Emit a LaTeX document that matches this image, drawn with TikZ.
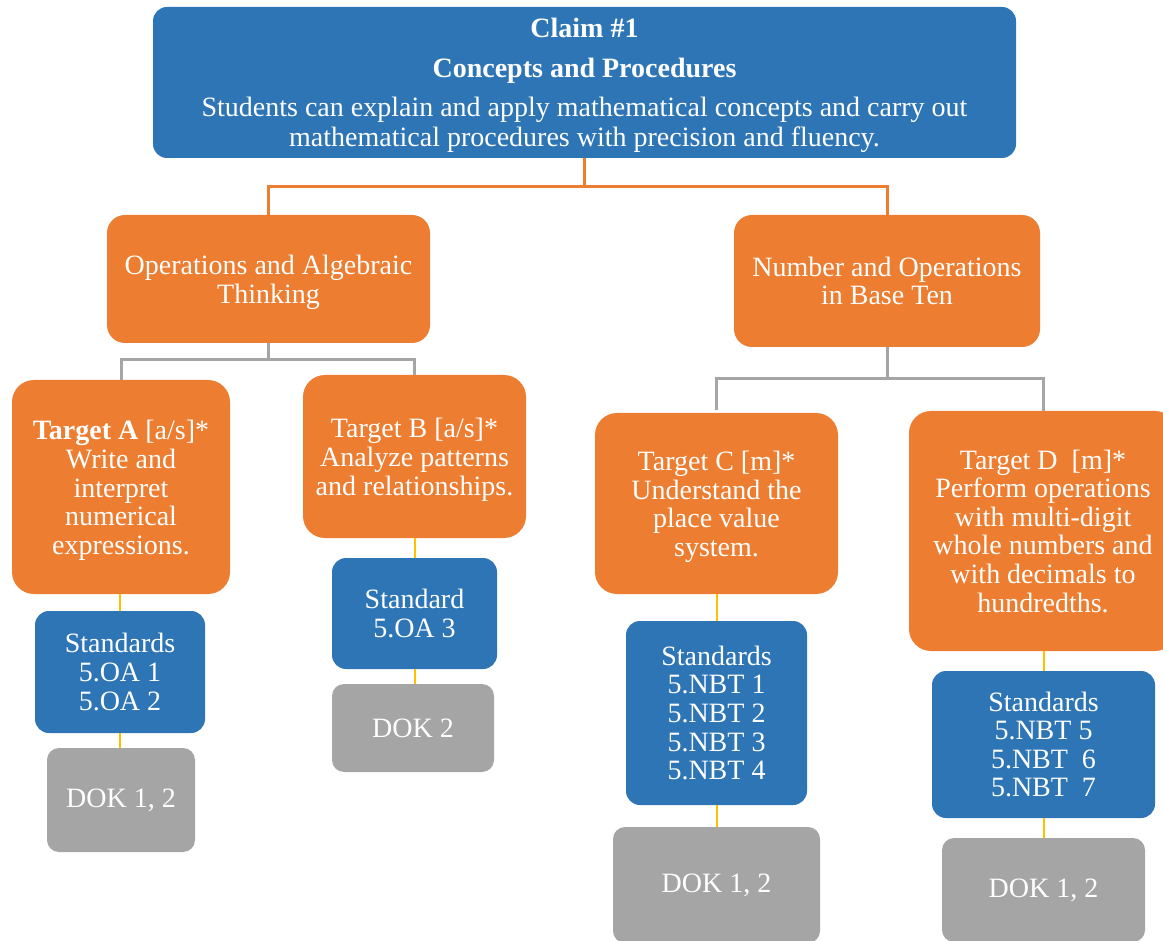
\documentclass[tikz,border=0pt]{standalone}
\usepackage{fontspec}
\setmainfont{Liberation Serif}
\usepackage{xcolor}
\usepackage{tikz}
\usetikzlibrary{positioning}
\definecolor{claimblue}{HTML}{2E75B6}
\definecolor{areaorange}{HTML}{ED7D31}
\definecolor{dokgray}{HTML}{A5A5A5}
\definecolor{linkyellow}{HTML}{FFC000}
\newcommand{\topgap}{\rule{0pt}{13pt}}
\tikzstyle{claimbox} = [rectangle, rounded corners=7pt, fill=claimblue, text=white, align=center, inner sep=0pt, font=\fontsize{14}{15}\selectfont]
\tikzstyle{areabox} = [rectangle, rounded corners=9pt, fill=areaorange, text=white, align=center, inner sep=0pt, font=\fontsize{14}{14.3}\selectfont]
\tikzstyle{targetbox} = [areabox, rounded corners=11pt]
\tikzstyle{stdbox} = [rectangle, rounded corners=7pt, fill=claimblue, text=white, align=center, inner sep=0pt, font=\fontsize{14}{14.3}\selectfont]
\tikzstyle{dokbox} = [stdbox, fill=dokgray, rounded corners=6pt]
\tikzstyle{orangeline} = [draw=areaorange, line width=1.5pt]
\tikzstyle{grayline} = [draw=dokgray, line width=1.5pt]
\tikzstyle{yellowline} = [draw=linkyellow, line width=1pt]

\begin{document}
\begin{tikzpicture}[x=0.5pt, y=-0.5pt]
    \useasboundingbox (0,0) rectangle (1163,941);
    \clip (0,0) rectangle (1163,941);
    % claim
    \node(claim)[claimbox, minimum width=431.5pt, minimum height=75.5pt] at (584.5,82.5)
        {\topgap\textbf{Claim \#1}\\[5pt]\textbf{Concepts and Procedures}\\[4.5pt]Students can explain and apply mathematical concepts and carry out\\mathematical procedures with precision and fluency.};
    % domains
    \node(oat)[areabox, minimum width=161.5pt, minimum height=64pt] at (268.5,279) {\topgap Operations and Algebraic\\Thinking};
    \node(nbt)[areabox, minimum width=153pt, minimum height=66pt] at (887,281) {Number and Operations\\in Base Ten};
    % targets
    \node(tA)[targetbox, minimum width=109pt, minimum height=107pt] at (121,487)
        {\topgap\textbf{Target A} [a/s]*\\Write and\\interpret\\numerical\\expressions.};
    \node(tB)[targetbox, minimum width=111.5pt, minimum height=81.5pt] at (414.5,456.5)
        {\topgap Target B [a/s]*\\Analyze patterns\\and relationships.};
    \node(tC)[targetbox, minimum width=121.5pt, minimum height=90.5pt] at (716.5,503.5)
        {\topgap Target C [m]*\\Understand the\\place value\\system.};
    \node(tD)[targetbox, minimum width=134pt, minimum height=120pt] at (1043,531)
        {Target D~~[m]*\\Perform operations\\with multi-digit\\whole numbers and\\with decimals to\\hundredths.};
    % standards
    \node(sA)[stdbox, minimum width=85pt, minimum height=61pt] at (120,672) {Standards\\5.OA 1\\5.OA 2};
    \node(sB)[stdbox, minimum width=82.5pt, minimum height=55.5pt] at (414.5,613.5) {Standard\\5.OA 3};
    \node(sC)[stdbox, minimum width=90.5pt, minimum height=92pt] at (716.5,713) {Standards\\5.NBT 1\\5.NBT 2\\5.NBT 3\\5.NBT 4};
    \node(sD)[stdbox, minimum width=111.5pt, minimum height=73.5pt] at (1043.5,744.5) {Standards\\5.NBT 5\\5.NBT~~6\\5.NBT~~7};
    % dok
    \node(dA)[dokbox, minimum width=74pt, minimum height=52pt] at (121,800) {DOK 1, 2};
    \node(dB)[dokbox, minimum width=81pt, minimum height=44pt] at (413,728) {DOK 2};
    \node(dC)[dokbox, minimum width=103.5pt, minimum height=58pt] at (716.5,885) {DOK 1, 2};
    \node(dD)[dokbox, minimum width=101.5pt, minimum height=52pt] at (1043.5,890) {DOK 1, 2};
    % connectors
    \draw[orangeline](claim.south)-- ++(0,28) -| (oat.north);
    \draw[orangeline](claim.south)-- ++(0,28) -| (nbt.north);
    \draw[grayline](oat.south)-- ++(0,16) -| (tA.north);
    \draw[grayline](oat.south)-- ++(0,16) -| (tB.north);
    \draw[grayline](nbt.south)-- ++(0,31) -| ([yshift=1.5pt]tC.north);
    \draw[grayline](nbt.south)-- ++(0,31) -| (tD.north);
    \draw[yellowline](sA.north)--(sA.north |- tA.south);
    \draw[yellowline](sA.south)--(sA.south |- dA.north);
    \draw[yellowline](sB.north)--(sB.north |- tB.south);
    \draw[yellowline](sB.south)--(sB.south |- dB.north);
    \draw[yellowline](sC.north)--(sC.north |- tC.south);
    \draw[yellowline](sC.south)--(sC.south |- dC.north);
    \draw[yellowline](sD.north)--(sD.north |- tD.south);
    \draw[yellowline](sD.south)--(sD.south |- dD.north);
\end{tikzpicture}
\end{document}
